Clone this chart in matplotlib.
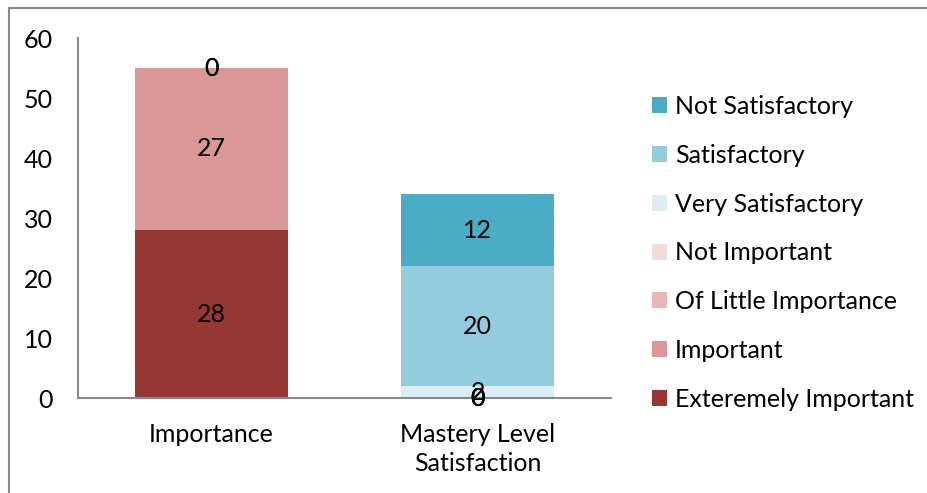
import numpy as np
import matplotlib.pyplot as plt
from matplotlib.lines import Line2D

plt.rcParams["font.family"] = ["Lato", "DejaVu Sans"]

categories = ["Importance", "Mastery Level\nSatisfaction"]

# stacked from the bottom up; nan = no segment on that bar
series_names = [
    "Exteremely Important",
    "Important",
    "Of Little Importance",
    "Not Important",
    "Very Satisfactory",
    "Satisfactory",
    "Not Satisfactory",
]
series_values = [
    [28, 0],
    [27, 0],
    [0, 0],
    [0, 0],
    [np.nan, 2],
    [np.nan, 20],
    [np.nan, 12],
]
series_colors = ["#953735", "#d99795", "#e6b9b8", "#f2dcdb", "#dbeef4", "#93cddd", "#4bacc6"]

FS = 18

fig = plt.figure(figsize=(9.27, 4.93), dpi=100)
ax = fig.add_axes([78 / 927, 1 - 398 / 493, 533 / 927, 360 / 493])

x = np.arange(len(categories))
bottom = np.zeros(len(categories))
handles = []
for name, vals, col in zip(series_names, series_values, series_colors):
    vals = np.array(vals, dtype=float)
    h = np.nan_to_num(vals)
    bars = ax.bar(x, h, 0.575, bottom=bottom, color=col, label=name)
    labels = ["" if np.isnan(v) else f"{v:g}" for v in vals]
    ax.bar_label(bars, labels=labels, label_type="center", fontsize=FS, color="black")
    bottom += h
    handles.append(bars)

ax.set_xlim(-0.5, 1.5)
ax.set_ylim(0, 60)
ax.set_yticks(range(0, 61, 10))
ax.set_xticks(x)
ax.set_xticklabels(categories, fontsize=FS, linespacing=1.3)
ax.tick_params(axis="y", length=0, labelsize=FS, pad=18)
ax.tick_params(axis="x", length=0, pad=18)
for s in ["top", "right"]:
    ax.spines[s].set_visible(False)
for s in ["left", "bottom"]:
    ax.spines[s].set_color("#888888")
    ax.spines[s].set_linewidth(1.5)

leg = ax.legend(
    handles[::-1], series_names[::-1],
    loc="upper left", bbox_to_anchor=(1.059, 0.869),
    frameon=False, fontsize=FS, handlelength=0.6, handleheight=0.6,
    handletextpad=0.3, labelspacing=1.03, borderaxespad=0,
)

# outer chart frame (left and top edges)
fig.add_artist(Line2D([9 / 927, 9 / 927], [0, 1 - 8 / 493], transform=fig.transFigure,
                      color="#888888", lw=1.5))
fig.add_artist(Line2D([9 / 927, 1], [1 - 8 / 493, 1 - 8 / 493], transform=fig.transFigure,
                      color="#888888", lw=1.5))

fig.savefig("out.png", dpi=100)
